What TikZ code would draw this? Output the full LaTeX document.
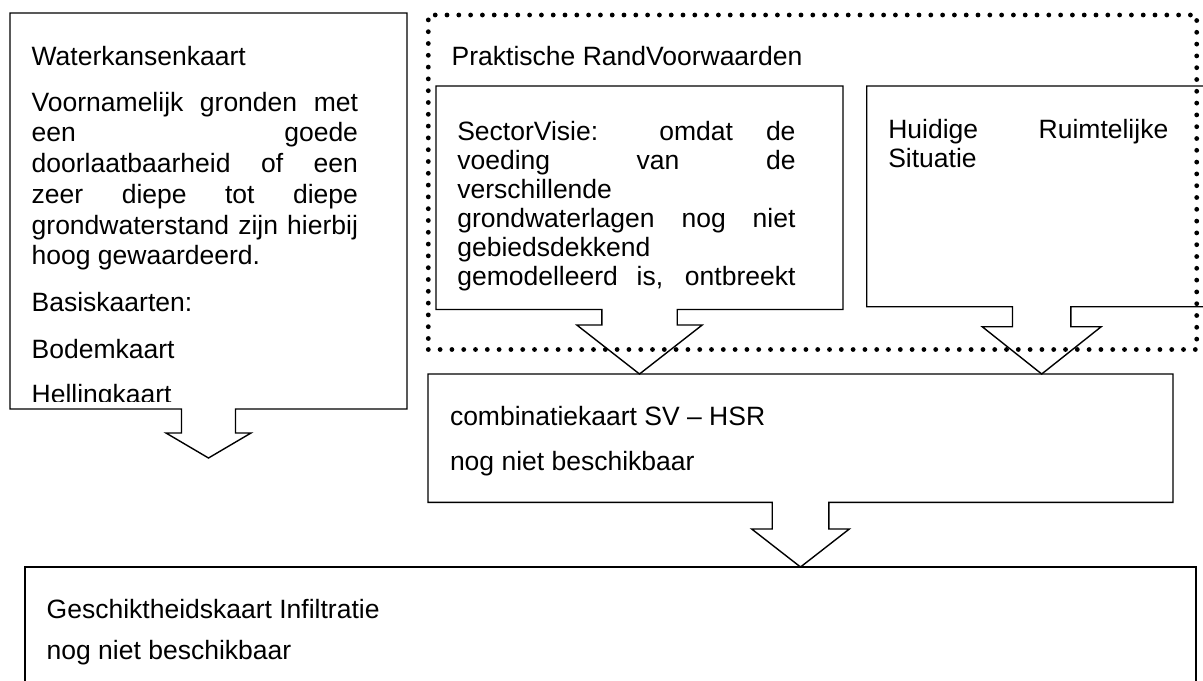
\documentclass[tikz,border=0pt]{standalone}
\usepackage{fontspec}
\setmainfont{Liberation Sans}
\usetikzlibrary{calc,fit}
\newcommand\calloutdown[5]{%
  \draw[outline] (#1.south west) -- (#1.north west) -- (#1.north east) -- (#1.south east)
    -- ($(#1.south)+(#2,0)$) -- ($(#1.south)+(#2,#3)$) -- ($(#1.south)+(#4,#3)$)
    -- (#1.south |- #5) -- ($(#1.south)+(-#4,#3)$) -- ($(#1.south)+(-#2,#3)$)
    -- ($(#1.south)+(-#2,0)$) -- cycle;}
\begin{document}
\begin{tikzpicture}[x=0.5pt,y=-0.5pt,
  outline/.style={draw=black,line width=0.7pt,line join=miter},
  area/.style={inner sep=0pt,outer sep=0pt},
  dotframe/.style={draw=black,line width=2.4pt,dash pattern=on 0pt off 5.9pt,line cap=round},
  txt/.style={anchor=base west,inner sep=0pt,outer sep=0pt,font=\fontsize{13.25pt}{15pt}\selectfont}]
\useasboundingbox (0,0) rectangle (1203,680);
\clip (0,0) rectangle (1203,680);
\fill[white] (0,0) rectangle (1203,680);

% areas
\node[area, fit={(10,13) (407,409)}] (wk) {};
\node[area, fit={(428.3,15) (1196.7,349.5)}, dotframe] (prv) {};
\node[area, fit={(436,86) (843,309.5)}] (sv) {};
\node[area, fit={(866.7,86) (1216.7,306.7)}] (hsr) {};
\node[area, fit={(428,374) (1173,502.3)}] (combo) {};
\node[area, fit={(25,567) (1196,720)}, outline] (gi) {};
\coordinate (wktip) at (208.5,458);

% callout outlines
\calloutdown{wk}{27}{24}{42.5}{wktip}
\calloutdown{sv}{37.7}{15.5}{62.7}{combo.north}
\calloutdown{hsr}{29.2}{20}{59.5}{combo.north}
\calloutdown{combo}{28.3}{26.7}{48.8}{gi.north}

% Waterkansenkaart text
\begin{scope}
\clip (wk.north west) rectangle ($(wk.south east)+(0,-7.3)$);
\node[txt] (w0) at (31.7,65.7) {Waterkansenkaart};
\node[txt] (w1) at (31.7,111.7) {\makebox[163.15pt][s]{Voornamelijk gronden met}};
\node[txt] (w2) at (31.7,141.9) {\makebox[163.15pt][s]{een goede}};
\node[txt] (w3) at (31.7,172.6) {\makebox[163.15pt][s]{doorlaatbaarheid of een}};
\node[txt] (w4) at (31.7,203.3) {\makebox[163.15pt][s]{zeer diepe tot diepe}};
\node[txt] (w5) at (31.7,234.0) {\makebox[163.15pt][s]{grondwaterstand zijn hierbij}};
\node[txt] (w6) at (31.7,264.7) {hoog gewaardeerd.};
\node[txt] (w7) at (31.7,311.7) {Basiskaarten:};
\node[txt] (w8) at (31.7,358) {Bodemkaart};
\node[txt] (w9) at (31.7,403) {Hellingkaart};
\end{scope}

% Praktische RandVoorwaarden
\node[txt] (p0) at (451.7,65) {Praktische RandVoorwaarden};

% SectorVisie text
\node[txt] (s1) at (457.3,140.5) {\makebox[169.1pt][s]{SectorVisie: omdat de}};
\node[txt] (s2) at (457.3,169.6) {\makebox[169.1pt][s]{voeding van de}};
\node[txt] (s3) at (457.3,198.7) {verschillende};
\node[txt] (s4) at (457.3,227.8) {\makebox[169.1pt][s]{grondwaterlagen nog niet}};
\node[txt] (s5) at (457.3,256.8) {gebiedsdekkend};
\node[txt] (s6) at (457.3,285.6) {\makebox[169.1pt][s]{gemodelleerd is, ontbreekt}};

% HSR text
\node[txt] (h1) at (888.3,138.3) {\makebox[140pt][s]{Huidige Ruimtelijke}};
\node[txt] (h2) at (888.3,167.7) {Situatie};

% combinatie text
\node[txt] (c1) at (450,425.7) {combinatiekaart SV – HSR};
\node[txt] (c2) at (450,470) {nog niet beschikbaar};

% Geschiktheid text
\node[txt] (g1) at (46.7,618.3) {Geschiktheidskaart Infiltratie};
\node[txt] (g2) at (46.7,659) {nog niet beschikbaar};
\end{tikzpicture}
\end{document}
